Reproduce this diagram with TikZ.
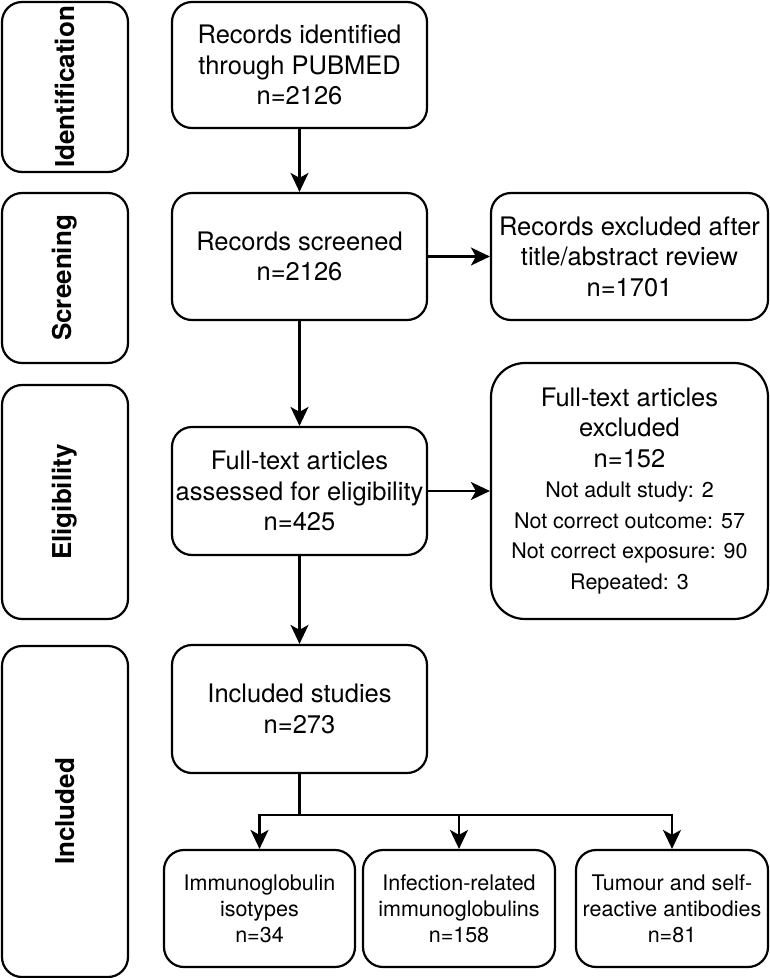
\documentclass[tikz,border=0pt]{standalone}
\usepackage{fontspec}
\setmainfont{TeX Gyre Heros}
\usetikzlibrary{arrows.meta}
\begin{document}
\begin{tikzpicture}[x=1pt,y=-1pt,
  box/.style={draw, line width=2.2pt, rounded corners=20pt, align=center, inner sep=0pt,
    font=\fontsize{25.5}{30.5}\selectfont},
  bigbox/.style={box, rounded corners=34pt},
  smallbox/.style={box, font=\fontsize{21.5}{26}\selectfont},
  side/.style={draw, line width=2.2pt, rounded corners=20pt, rotate=90, inner sep=0pt,
    minimum height=126pt, font=\fontsize{26}{30}\selectfont\bfseries},
  arr/.style={line width=2.2pt, -{Stealth[length=19pt,width=18pt,inset=5pt]}},
  ln/.style={line width=2.2pt}]
\useasboundingbox (0,0) rectangle (770,978);

% side labels
\node[side, minimum width=170pt] (sid) at (65,87) {Identification};
\node[side, minimum width=170pt] (sscr) at (65,278) {Screening};
\node[side, minimum width=234pt] (seli) at (65,502) {Eligibility};
\node[side, minimum width=331pt] (sinc) at (65,811.5) {Included};

% main boxes
\node[box, minimum width=255pt, minimum height=126pt] (a) at (299.5,65)
  {Records identified\\through PUBMED\\n=2126};
\node[box, minimum width=255pt, minimum height=127pt] (b) at (299.5,256.5)
  {Records screened\\n=2126};
\node[box, minimum width=277pt, minimum height=127pt] (c) at (629.5,256.5)
  {Records excluded after\\title/abstract review\\n=1701};
\node[box, minimum width=255pt, minimum height=128pt] (d) at (299.5,491)
  {Full-text articles\\assessed for eligibility\\n=425};
\node[bigbox, minimum width=277pt, minimum height=256pt] (e) at (629.5,491)
  {Full-text articles\\excluded\\n=152\\
   {\fontsize{21.5}{30.5}\selectfont Not adult study: 2}\\
   {\fontsize{21.5}{30.5}\selectfont Not correct outcome: 57}\\
   {\fontsize{21.5}{30.5}\selectfont Not correct exposure: 90}\\
   {\fontsize{21.5}{30.5}\selectfont Repeated: 3}};
\node[box, minimum width=255pt, minimum height=128pt] (f) at (299.5,709)
  {Included studies\\n=273};
\node[smallbox, minimum width=191pt, minimum height=117pt] (g) at (259.5,908.5)
  {Immunoglobulin\\isotypes\\n=34};
\node[smallbox, minimum width=192pt, minimum height=117pt] (h) at (459,908.5)
  {Infection-related\\immunoglobulins\\n=158};
\node[smallbox, minimum width=192pt, minimum height=117pt] (i) at (672,908.5)
  {Tumour and self-\\reactive antibodies\\n=81};

% connectors
\draw[arr] (a) -- (b);
\draw[arr] (b) -- (c);
\draw[arr] (b) -- (d);
\draw[arr] (d) -- (e);
\draw[arr] (d) -- (f);
\coordinate (j) at (299.5,815);
\coordinate (jg) at (259.5,815);
\coordinate (ji) at (672,815);
\draw[ln] (f.south) -- (j);
\draw[ln, line cap=rect] (jg) -- (ji);
\draw[arr] (jg) -- (g.north);
\draw[arr] (h.north |- j) -- (h.north);
\draw[arr] (ji) -- (i.north);
\end{tikzpicture}
\end{document}
